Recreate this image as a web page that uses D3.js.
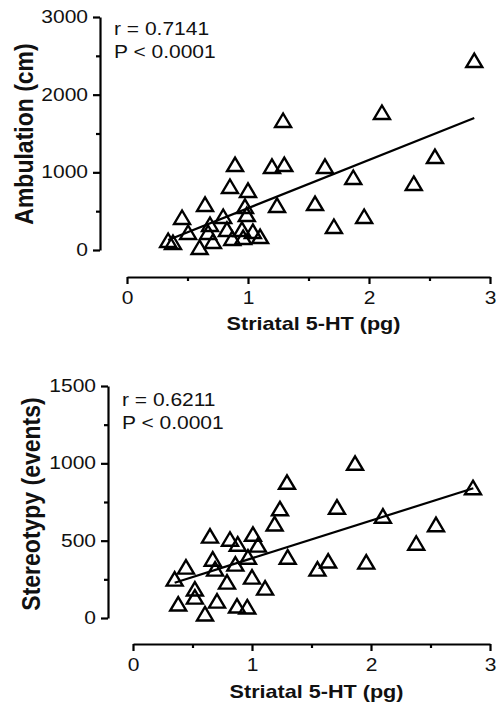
<!DOCTYPE html>
<html>
<head>
<meta charset="utf-8">
<script src="https://cdn.jsdelivr.net/npm/d3@7"></script>
<style>
  body { margin: 0; background: #fff; }
  svg { display: block; font-family: "Liberation Sans", Arial, sans-serif; }
</style>
</head>
<body>
<svg id="chart"></svg>
<script>
// ambulation vs striatal 5-HT
const ambX = [0.34, 0.38, 0.455, 0.505, 0.60, 0.645, 0.67, 0.686, 0.71, 0.795, 0.826, 0.851,
  0.87, 0.893, 0.95, 0.96, 0.975, 0.99, 1.0, 1.04, 1.10, 1.198, 1.24, 1.30, 1.29, 1.554,
  1.636, 1.71, 1.87, 1.96, 2.107, 2.37, 2.545, 2.87];
const ambY = [116, 90, 412, 219, 26, 580, 219, 322, 103, 425, 258, 811,
  142, 1094, 258, 154, 554, 450, 760, 232, 167, 1069, 567, 1094, 1661, 592,
  1069, 296, 927, 425, 1764, 850, 1197, 2433];
const ambFitX = [0.34, 2.87];
const ambFitY = [129, 1700];

// stereotypy vs striatal 5-HT
const sterX = [0.35, 0.38, 0.445, 0.52, 0.52, 0.605, 0.647, 0.67, 0.69, 0.706, 0.79, 0.815,
  0.86, 0.874, 0.88, 0.96, 0.966, 1.0, 1.008, 1.05, 1.11, 1.19, 1.235, 1.30, 1.294, 1.55,
  1.64, 1.714, 1.866, 1.96, 2.10, 2.38, 2.546, 2.857];
const sterY = [248, 87, 326, 184, 132, 23, 526, 377, 313, 106, 229, 506,
  345, 74, 474, 68, 390, 261, 538, 468, 190, 605, 703, 390, 874, 313,
  365, 713, 997, 358, 655, 480, 600, 839];
const sterFitX = [0.35, 2.86];
const sterFitY = [228, 839];

const xMajor = [0, 1, 2, 3];
const xMinor = [0.5, 1.5, 2.5];
const xTitle = "Striatal 5-HT (pg)";

const width = 499, height = 712;
const S = 1.2; // horizontal stretch of the lettering

const svg = d3.select("#chart").attr("width", width).attr("height", height);

function drawPanel(p) {
  const x = d3.scaleLinear().domain([0, 3]).range([p.x0, p.x1]);
  const y = d3.scaleLinear().domain([0, p.yMax]).range([p.y0, p.y1]);
  const g = svg.append("g");

  //y axis
  const gy = g.append("g").attr("transform", `translate(${p.yAxisX},0)`);
  gy.call(d3.axisLeft(y).tickValues(p.yMajor).tickFormat(d3.format("d"))
    .tickSize(7).tickSizeOuter(0).tickPadding(3));
  gy.append("g").call(d3.axisLeft(y).tickValues(p.yMinor).tickSize(4).tickFormat(""))
    .select(".domain").remove();

  //x axis (offset below)
  const gx = g.append("g").attr("transform", `translate(0,${p.xAxisY})`);
  gx.call(d3.axisBottom(x).tickValues(xMajor).tickFormat(d3.format("d"))
    .tickSize(7).tickSizeOuter(0).tickPadding(8));
  gx.append("g").call(d3.axisBottom(x).tickValues(xMinor).tickSize(4).tickFormat(""))
    .select(".domain").remove();

  g.selectAll(".domain, .tick line").attr("stroke", "#000").attr("stroke-width", 2.2);
  g.selectAll(".tick text")
    .attr("font-size", 17.5)
    .attr("font-family", "Liberation Sans, Arial, sans-serif")
    .attr("fill", "#111")
    .attr("transform", `scale(${S},1)`);

  //regression line
  g.append("path")
    .datum(d3.zip(p.fitX, p.fitY))
    .attr("d", d3.line().x(d => x(d[0])).y(d => y(d[1])))
    .attr("fill", "none")
    .attr("stroke", "#000")
    .attr("stroke-width", 2.2);

  //triangles
  g.append("g").selectAll("path")
    .data(d3.zip(p.xs, p.ys))
    .join("path")
    .attr("transform", d => `translate(${x(d[0])},${y(d[1])})`)
    .attr("d", "M0,-7.5L8,6L-8,6Z")
    .attr("fill", "none")
    .attr("stroke", "#000")
    .attr("stroke-width", 2.4);

  //r and P
  p.notes.forEach((t, i) => {
    g.append("text")
      .attr("transform", `translate(${p.noteX},${p.noteY + i * 23}) scale(${S},1)`)
      .attr("font-size", 17.5)
      .attr("fill", "#111")
      .text(t);
  });

  //titles
  g.append("text")
    .attr("transform", `translate(${(p.x0 + p.x1) / 2 + 5},${p.xTitleY}) scale(${S},1)`)
    .attr("text-anchor", "middle")
    .attr("font-size", 18)
    .attr("font-weight", "bold")
    .attr("fill", "#111")
    .text(xTitle);

  g.append("text")
    .attr("transform", `translate(${p.yTitleX},${p.yTitleY}) scale(1.12,1) rotate(-90)`)
    .attr("text-anchor", "middle")
    .attr("font-size", 23)
    .attr("font-weight", "bold")
    .attr("fill", "#111")
    .text(p.yTitle);
}

drawPanel({
  xs: ambX, ys: ambY, fitX: ambFitX, fitY: ambFitY,
  yMax: 3000, yMajor: [0, 1000, 2000, 3000], yMinor: [500, 1500, 2500],
  x0: 127, x1: 490, y0: 250, y1: 17,
  yAxisX: 100, xAxisY: 277,
  notes: ["r = 0.7141", "P < 0.0001"], noteX: 114, noteY: 35,
  xTitleY: 330, yTitleX: 33, yTitleY: 134,
  yTitle: "Ambulation (cm)"
});

drawPanel({
  xs: sterX, ys: sterY, fitX: sterFitX, fitY: sterFitY,
  yMax: 1500, yMajor: [0, 500, 1000, 1500], yMinor: [250, 750, 1250],
  x0: 133, x1: 490, y0: 618, y1: 386,
  yAxisX: 108, xAxisY: 644,
  notes: ["r = 0.6211", "P < 0.0001"], noteX: 122, noteY: 406,
  xTitleY: 698, yTitleX: 40, yTitleY: 504,
  yTitle: "Stereotypy (events)"
});
</script>
</body>
</html>
